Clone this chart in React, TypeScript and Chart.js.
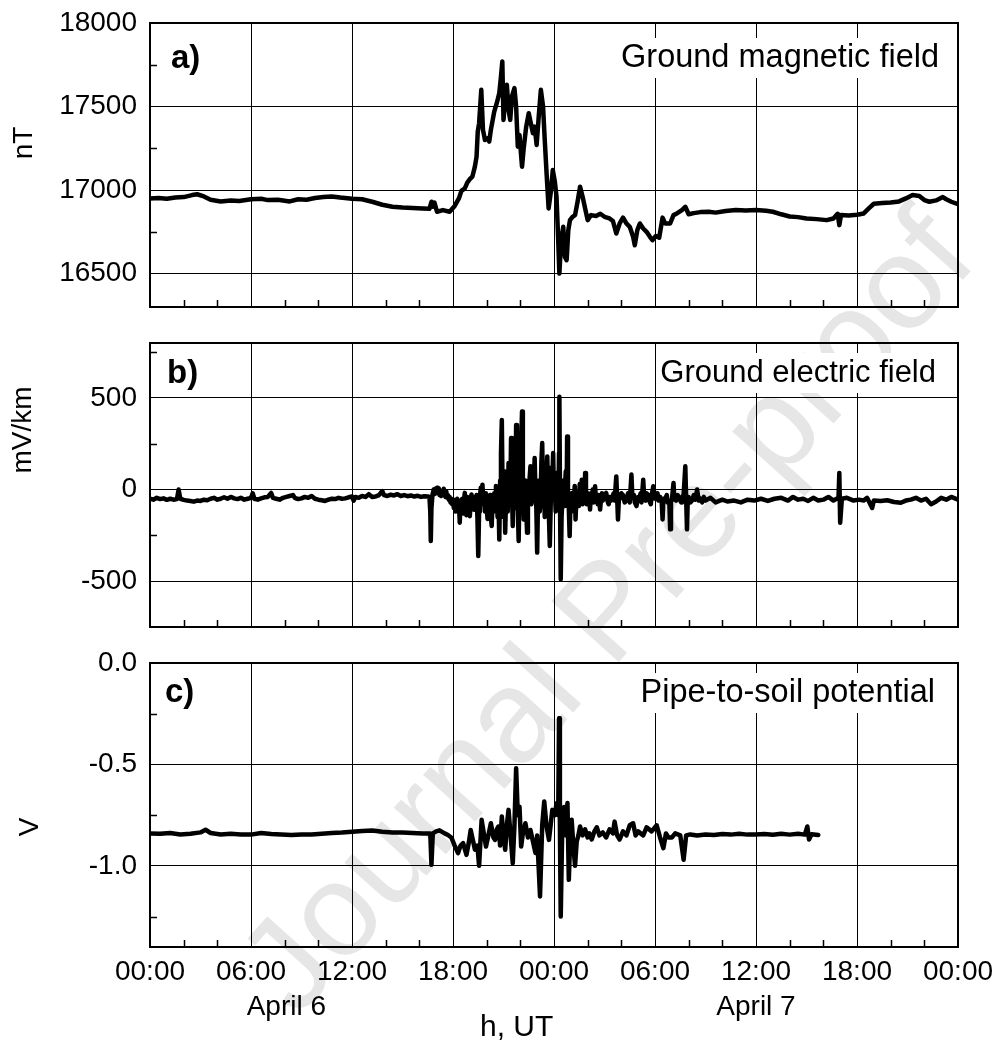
import React, { useEffect, useRef } from 'react';
import { Chart, registerables } from 'chart.js';

Chart.register(...registerables);

const FONT = '"Liberation Sans", Arial, Helvetica, sans-serif';

// ---------- shared x axis (hours from April 6, 00:00 UT) ----------
const xMin = 0;
const xMax = 48;
const majorHours = [0, 6, 12, 18, 24, 30, 36, 42, 48];
const hourLabels = ['00:00', '06:00', '12:00', '18:00', '00:00', '06:00', '12:00', '18:00', '00:00'];
const minorHours = [2, 4, 8, 10, 14, 16, 20, 22, 26, 28, 32, 34, 38, 40, 44, 46];
const dayLabels = ['April 6', 'April 7'];
const dayLabelHours = [8.1, 36];
const xTitle = 'h, UT';

// ---------- panel a: ground magnetic field (nT) ----------
const magHours = [
  0, 0.5, 1.0, 1.5, 2.0, 2.5, 2.8, 3.2, 3.6, 4.2, 4.8, 5.3, 6.0, 6.6, 7.0, 7.6, 8.3, 8.8, 9.3, 9.8,
  10.3, 10.8, 11.3, 12.0, 12.6, 13.2, 13.8, 14.4, 15.0, 15.6, 16.2, 16.6, 16.72, 16.8, 16.9, 17.05, 17.4, 17.8, 18.1, 18.35,
  18.5, 18.7, 18.85, 19.0, 19.15, 19.3, 19.4, 19.47, 19.55, 19.68, 19.78, 19.9, 20.05, 20.15, 20.25, 20.45, 20.6, 20.75, 20.85, 20.93,
  21.0, 21.1, 21.2, 21.3, 21.4, 21.5, 21.65, 21.75, 21.85, 21.95, 22.1, 22.2, 22.35, 22.5, 22.6, 22.75, 22.85, 22.97, 23.1, 23.22,
  23.35, 23.45, 23.57, 23.68, 23.8, 23.93, 24.05, 24.15, 24.25, 24.32, 24.42, 24.55, 24.65, 24.75, 24.85, 24.95, 25.1, 25.25, 25.4, 25.55,
  25.7, 25.85, 26.0, 26.2, 26.5, 26.75, 27.0, 27.3, 27.5, 27.7, 27.9, 28.1, 28.3, 28.5, 28.7, 28.8, 28.95, 29.1, 29.3, 29.5,
  29.7, 29.85, 30.05, 30.25, 30.45, 30.6, 30.9, 31.1, 31.3, 31.6, 31.8, 32.0, 32.3, 32.7, 33.2, 33.6, 34.2, 34.8, 35.4, 36.0,
  36.6, 37.0, 37.5, 38.0, 38.5, 39.0, 39.6, 40.2, 40.6, 40.85, 40.95, 41.05, 41.5, 42.0, 42.4, 42.7, 43.0, 43.5, 44.0, 44.5,
  44.9, 45.3, 45.7, 46.0, 46.3, 46.7, 47.1, 47.3, 47.6, 48.0,
];
const magValues = [
  16950, 16952, 16948, 16955, 16958, 16970, 16975, 16962, 16942, 16932, 16938, 16935, 16945, 16948, 16940, 16942, 16932, 16945, 16942, 16952,
  16958, 16962, 16955, 16948, 16945, 16930, 16912, 16900, 16895, 16893, 16890, 16888, 16930, 16900, 16925, 16870, 16880, 16870, 16905, 16950,
  16995, 17010, 17045, 17065, 17080, 17140, 17200, 17350, 17400, 17600, 17360, 17300, 17310, 17290, 17360, 17470, 17520, 17580, 17680, 17770,
  17420, 17550, 17630, 17480, 17420, 17560, 17610, 17500, 17260, 17330, 17140, 17250, 17380, 17460, 17410, 17340, 17380, 17270, 17450, 17600,
  17500, 17300, 17080, 16890, 16980, 17120, 17050, 16960, 16700, 16500, 16700, 16780, 16600, 16580, 16760, 16820, 16840, 16850, 16930, 17020,
  16960, 16890, 16820, 16850, 16845, 16858, 16840, 16830, 16815, 16740, 16800, 16835, 16800, 16780, 16720, 16670, 16760, 16800, 16770, 16750,
  16720, 16700, 16725, 16715, 16835, 16800, 16800, 16850, 16860, 16880, 16900, 16855, 16862, 16868, 16870, 16865, 16875, 16880, 16878, 16880,
  16876, 16870, 16855, 16842, 16838, 16830, 16826, 16820, 16830, 16858, 16790, 16850, 16848, 16852, 16860, 16890, 16918, 16922, 16925, 16932,
  16950, 16970, 16965, 16940, 16930, 16938, 16958, 16945, 16930, 16915,
];
const magTicks = [16500, 17000, 17500, 18000];
const magMinorTicks = [16750, 17250, 17750];

// ---------- panel b: ground electric field (mV/km) ----------
const elecHours = [
  0.0, 0.2, 0.4, 0.6, 0.8, 1.0, 1.2, 1.4, 1.6, 1.7, 1.8, 2.0, 2.2, 2.4, 2.6, 2.8, 3.0, 3.2, 3.4, 3.6,
  3.8, 4.0, 4.2, 4.4, 4.6, 4.8, 5.0, 5.2, 5.4, 5.6, 5.8, 6.0, 6.1, 6.2, 6.4, 6.6, 6.8, 7.0, 7.2, 7.3,
  7.5, 7.7, 7.9, 8.1, 8.3, 8.5, 8.6, 8.8, 9.0, 9.2, 9.4, 9.6, 9.8, 10.0, 10.2, 10.4, 10.6, 10.8, 11.0, 11.2,
  11.4, 11.6, 11.8, 12.0, 12.1, 12.2, 12.4, 12.6, 12.8, 13.0, 13.2, 13.4, 13.6, 13.8, 13.9, 14.1, 14.3, 14.5, 14.7, 14.9,
  15.1, 15.3, 15.5, 15.7, 15.9, 16.1, 16.3, 16.5,
  16.6, 16.65, 16.68, 16.72, 16.78, 16.85, 16.9, 16.95, 17.0, 17.05, 17.1, 17.15, 17.2, 17.25, 17.3, 17.35, 17.4, 17.45, 17.5, 17.55,
  17.6, 17.65, 17.7, 17.75, 17.8, 17.85, 17.9, 17.95, 18.0, 18.05, 18.1, 18.15, 18.2, 18.25, 18.3, 18.35, 18.4, 18.45, 18.5, 18.55,
  18.6, 18.65, 18.7, 18.75, 18.8, 18.85, 18.9, 18.95, 19.0, 19.05, 19.1, 19.15, 19.2, 19.25, 19.3, 19.35, 19.4, 19.45, 19.5, 19.55,
  19.6, 19.65, 19.7, 19.75, 19.8, 19.85, 19.9, 19.95, 20.0, 20.05, 20.1, 20.15, 20.2, 20.25, 20.3, 20.35, 20.4, 20.45, 20.5, 20.55,
  20.6, 20.65, 20.7, 20.75, 20.8, 20.85, 20.9, 20.95, 21.0, 21.05, 21.1, 21.15, 21.2, 21.25, 21.3, 21.35, 21.4, 21.45, 21.5, 21.55,
  21.6, 21.65, 21.7, 21.75, 21.8, 21.85, 21.9, 21.95, 22.0, 22.05, 22.1, 22.15, 22.2, 22.25, 22.3, 22.35, 22.4, 22.45, 22.5, 22.55,
  22.6, 22.65, 22.7, 22.75, 22.8, 22.85, 22.9, 22.95, 23.0, 23.05, 23.1, 23.15, 23.2, 23.25, 23.3, 23.35, 23.4, 23.45, 23.5, 23.55,
  23.6, 23.65, 23.7, 23.75, 23.8, 23.85, 23.9, 23.95, 24.0, 24.05, 24.1, 24.15, 24.2, 24.25, 24.3, 24.32, 24.36, 24.4, 24.45, 24.5,
  24.55, 24.6, 24.65, 24.7, 24.75, 24.78, 24.83, 24.88, 24.93, 24.98, 25.03, 25.08, 25.13, 25.18, 25.23, 25.28, 25.33, 25.38, 25.43, 25.48,
  25.53, 25.58, 25.65, 25.7, 25.75, 25.8, 25.85, 25.9, 25.95, 26.0, 26.05, 26.1, 26.14, 26.2, 26.25, 26.3, 26.35, 26.4, 26.44, 26.5,
  26.55, 26.6, 26.65, 26.7, 26.74, 26.8, 26.85, 26.9, 26.95, 27.0,
  27.1, 27.2, 27.25, 27.3, 27.4, 27.5, 27.55, 27.6, 27.7, 27.75, 27.8, 27.85, 27.9, 28.0, 28.1, 28.2, 28.3, 28.4, 28.45, 28.5,
  28.6, 28.65, 28.75, 28.8, 28.9, 29.0, 29.05, 29.15, 29.2, 29.3, 29.35, 29.45, 29.5, 29.6, 29.7, 29.75, 29.8, 29.9, 30.0, 30.05,
  30.15, 30.2, 30.3, 30.4, 30.45, 30.5, 30.6, 30.7, 30.75, 30.85, 30.9, 30.95, 31.0, 31.1, 31.15, 31.25, 31.35, 31.45, 31.55, 31.6,
  31.7, 31.8, 31.85, 31.9, 31.95, 32.0, 32.1, 32.2, 32.3, 32.4, 32.5, 32.6, 32.7, 32.8, 32.9, 33.0,
  33.3, 33.6, 34.0, 34.3, 34.7, 35.1, 35.5, 35.9, 36.3, 36.7, 37.1, 37.5, 37.9, 38.2, 38.5, 38.8, 39.1, 39.4, 39.7, 40.0,
  40.3, 40.6, 40.9, 40.95, 41.0, 41.1, 41.4, 41.8, 42.1, 42.4, 42.6, 42.9, 43.0, 43.4, 43.8, 44.2, 44.6, 44.9, 45.2, 45.5,
  45.8, 46.1, 46.4, 46.7, 47.0, 47.3, 47.6, 48.0,
];
const elecValues = [
  -50, -55, -45, -52, -48, -56, -50, -55, -52, 0, -50, -56, -60, -62, -66, -60, -62, -55, -58, -50,
  -45, -55, -50, -42, -50, -40, -48, -52, -45, -55, -50, -45, -20, -50, -55, -48, -42, -40, -18, -45,
  -50, -55, -45, -40, -35, -30, -45, -52, -48, -40, -45, -35, -50, -55, -58, -62, -55, -50, -52, -45,
  -50, -48, -42, -38, -60, -40, -45, -35, -40, -25, -40, -38, -30, -8, -30, -35, -28, -32, -25, -35,
  -30, -36, -32, -38, -34, -40, -36, -38,
  -40, -120, -281, -100, -30, 0, -25, 5, -20, 10, -15, 8, -30, -10, -35, -5, -25, 5, -20, -40,
  -10, -45, -30, -55, -40, -70, -50, -80, -55, -100, -60, -120, -70, -50, -90, -60, -181, -70, -110, -50,
  -130, -60, -18, -80, -140, -40, -100, -60, -145, -50, -27, -90, -40, -110, -60, -100, -30, -150, -362, -120,
  -40, 10, -60, 27, -80, -30, -120, -20, -90, -160, -40, -120, -30, -150, -199, -60, -120, -20, -100, 20,
  -60, -150, -40, -272, 50, 200, 380, -50, -150, 100, -235, -50, 50, -120, 145, -80, -50, 281, 0, -199,
  50, 200, -100, 353, 100, -100, -281, 0, 100, 250, 426, 50, -163, 20, 50, -100, -235, -50, 0, 60,
  127, -80, -50, 100, 40, 172, -20, -100, -344, -50, 50, -120, -72, 150, 254, -50, 100, -150, -100, 80,
  181, -30, -150, -308, -100, 120, 50, 199, -50, 0, -120, 91, -30, -100, 200, 507, -100, -489, -150, -50,
  50, -90, 20, 100, -50, 290, -20, -100, -254, -50, -120, -18, -60, -100, 20, -163, -50, -36, -90, -50,
  30, -60, 54, -80, -20, -60, 91, -30, -80, -20, -60, -30, -109, -20, -60, 0, -70, -30, 18, -60,
  -40, -80, -30, -70, -109, -40, -20, -60, -30, -50,
  -18, -70, -80, -40, -60, -30, -20, -60, 72, -40, -163, -60, -50, -20, -30, -70, -60, -20, -40, -70,
  82, -30, -30, -70, -90, -40, -50, -20, -70, 54, -30, -60, -20, -30, -70, -80, -30, 18, -50, -40,
  -20, -60, -40, -70, -163, -50, -50, -30, -70, -60, -217, -60, -60, 36, -50, -60, -30, -50, -70, -40,
  -30, 127, -50, -217, -40, -40, -70, -60, -30, -55, 0, -60, -50, -70, -40, -60,
  -45, -70, -55, -65, -60, -70, -55, -60, -50, -62, -50, -45, -60, -40, -55, -50, -62, -45, -60, -55,
  -40, -60, -45, 91, -181, -50, -45, -60, -55, -60, -45, -100, -60, -62, -58, -68, -72, -60, -55, -45,
  -60, -50, -80, -65, -45, -55, -40, -55,
];
const elecTicks = [-500, 0, 500];
const elecMinorTicks = [-250, 250, 750];

// ---------- panel c: pipe-to-soil potential (V) ----------
const pspHours = [
  0, 0.6, 1.2, 1.8, 2.4, 3.0, 3.3, 3.6, 4.2, 4.8, 5.4, 6.0, 6.6, 7.2, 7.8, 8.4, 9.0, 9.6, 10.2, 10.8,
  11.4, 12.0, 12.6, 13.2, 13.8, 14.4, 15.0, 15.6, 16.2, 16.65, 16.72, 16.8, 17.0, 17.2, 17.5, 17.7, 17.9, 18.1, 18.3, 18.45,
  18.6, 18.8, 18.95, 19.05, 19.2, 19.3, 19.45, 19.55, 19.7, 19.85, 19.96, 20.1, 20.25, 20.4, 20.5, 20.6, 20.7, 20.8, 20.9, 21.0,
  21.1, 21.2, 21.3, 21.42, 21.55, 21.65, 21.75, 21.85, 21.95, 22.05, 22.15, 22.3, 22.45, 22.6, 22.75, 22.9, 23.0, 23.17, 23.3, 23.42,
  23.55, 23.7, 23.8, 23.9, 24.05, 24.15, 24.25, 24.3, 24.35, 24.4, 24.5, 24.6, 24.7, 24.8, 24.88, 24.97, 25.05, 25.15, 25.25, 25.35,
  25.45, 25.55, 25.7, 25.85, 26.0, 26.1, 26.24, 26.4, 26.54, 26.7, 26.9, 27.1, 27.3, 27.5, 27.6, 27.75, 27.9, 28.1, 28.3, 28.5,
  28.7, 28.85, 29.0, 29.3, 29.5, 29.8, 30.1, 30.3, 30.5, 30.65, 30.8, 31.0, 31.2, 31.5, 31.7, 31.85, 32.1, 32.5, 33.0, 33.5,
  34.0, 34.5, 35.0, 35.5, 36.0, 36.5, 37.0, 37.5, 38.0, 38.5, 38.9, 39.05, 39.15, 39.3, 39.7,
];
const pspValues = [
  -0.84, -0.842, -0.838, -0.845, -0.842, -0.835, -0.822, -0.838, -0.845, -0.842, -0.845, -0.846, -0.838, -0.843, -0.845, -0.848, -0.845, -0.846, -0.842, -0.838,
  -0.836, -0.832, -0.828, -0.826, -0.832, -0.835, -0.836, -0.838, -0.84, -0.84, -0.995, -0.84, -0.83, -0.825, -0.84, -0.848, -0.86, -0.9, -0.937, -0.9,
  -0.888, -0.946, -0.88, -0.823, -0.88, -0.92, -0.9, -1.0, -0.773, -0.85, -0.905, -0.85, -0.79, -0.86, -0.872, -0.82, -0.806, -0.9, -0.757, -0.85,
  -0.921, -0.8, -0.724, -0.85, -0.987, -0.8, -0.519, -0.75, -0.708, -0.905, -0.84, -0.79, -0.86, -0.823, -0.88, -0.937, -0.85, -1.151, -0.8, -0.683,
  -0.8, -0.872, -0.8, -0.724, -0.75, -0.691, -0.75, -0.272, -0.8, -1.25, -0.76, -0.71, -0.85, -0.69, -1.069, -0.85, -0.773, -0.9, -1.0, -0.88,
  -0.85, -0.806, -0.85, -0.82, -0.86, -0.84, -0.87, -0.83, -0.81, -0.85, -0.835, -0.86, -0.82, -0.84, -0.782, -0.85, -0.87, -0.83, -0.85, -0.8,
  -0.79, -0.85, -0.83, -0.85, -0.81, -0.83, -0.8, -0.86, -0.913, -0.84, -0.86, -0.86, -0.84, -0.85, -0.97, -0.85, -0.845, -0.85, -0.845, -0.848,
  -0.843, -0.846, -0.842, -0.846, -0.845, -0.843, -0.847, -0.842, -0.846, -0.842, -0.846, -0.806, -0.87, -0.844, -0.848,
];
const pspTicks = [-1.0, -0.5, 0];
const pspMinorTicks = [-1.25, -0.75, -0.25];

// ---------- panel layout ----------
interface PanelSpec {
  hours: number[];
  values: number[];
  yMin: number;
  yMax: number;
  yTicks: number[];
  yMinor: number[];
  fmt: (v: number) => string;
  tag: string;
  title: string;
  titleSize: number;
  yTitle: string;
  tagPos: [number, number];
  titlePos: [number, number];
  yTitlePos: [number, number];
  top: number;
  height: number;
  bottomAxis: boolean;
}

const panels: PanelSpec[] = [
  {
    hours: magHours, values: magValues, yMin: 16300, yMax: 18000,
    yTicks: magTicks, yMinor: magMinorTicks, fmt: (v) => String(v),
    tag: 'a)', title: 'Ground magnetic field', titleSize: 32.5, yTitle: 'nT',
    tagPos: [171, 68], titlePos: [939, 67], yTitlePos: [24, 143],
    top: 0, height: 320, bottomAxis: false,
  },
  {
    hours: elecHours, values: elecValues, yMin: -750, yMax: 800,
    yTicks: elecTicks, yMinor: elecMinorTicks, fmt: (v) => String(v),
    tag: 'b)', title: 'Ground electric field', titleSize: 31, yTitle: 'mV/km',
    tagPos: [167, 63], titlePos: [936, 62], yTitlePos: [23, 110],
    top: 320, height: 320, bottomAxis: false,
  },
  {
    hours: pspHours, values: pspValues, yMin: -1.4, yMax: 0,
    yTicks: pspTicks, yMinor: pspMinorTicks, fmt: (v) => v.toFixed(1),
    tag: 'c)', title: 'Pipe-to-soil potential', titleSize: 32.5, yTitle: 'V',
    tagPos: [165, 62], titlePos: [935, 62], yTitlePos: [30, 187],
    top: 640, height: 400, bottomAxis: true,
  },
];

const AREA_LEFT = 150;
const AREA_RIGHT_PAD = 39;
const AREA_TOP = 23;
const AREA_HEIGHT = 284;

function decorPlugin(p: PanelSpec) {
  return {
    id: 'panelDecor',
    afterDatasetsDraw(chart: any) {
      const ctx: CanvasRenderingContext2D = chart.ctx;
      const ca = chart.chartArea;
      const xs = chart.scales.x;
      const ys = chart.scales.y;
      ctx.save();
      // frame
      ctx.strokeStyle = '#000';
      ctx.lineWidth = 2;
      ctx.strokeRect(ca.left, ca.top, ca.right - ca.left, ca.bottom - ca.top);
      // minor ticks (inward)
      ctx.lineWidth = 1.5;
      ctx.beginPath();
      for (const h of minorHours) {
        const px = Math.round(xs.getPixelForValue(h)) + 0.5;
        ctx.moveTo(px, ca.bottom);
        ctx.lineTo(px, ca.bottom - 7);
      }
      for (const v of p.yMinor) {
        const py = Math.round(ys.getPixelForValue(v)) + 0.5;
        ctx.moveTo(ca.left, py);
        ctx.lineTo(ca.left + 7, py);
      }
      ctx.stroke();
      // panel title with white box
      ctx.font = `${p.titleSize}px ${FONT}`;
      const w = ctx.measureText(p.title).width;
      const [rx, by] = p.titlePos;
      ctx.fillStyle = '#fff';
      ctx.fillRect(rx - w - 4, by - 29, w + 8, 40);
      ctx.fillStyle = '#000';
      ctx.textAlign = 'right';
      ctx.textBaseline = 'alphabetic';
      ctx.fillText(p.title, rx, by);
      // tag
      ctx.font = `bold 33px ${FONT}`;
      ctx.textAlign = 'left';
      ctx.fillText(p.tag, p.tagPos[0], p.tagPos[1]);
      // bottom extras
      if (p.bottomAxis) {
        ctx.font = `28px ${FONT}`;
        ctx.textAlign = 'center';
        dayLabels.forEach((lab, i) => {
          ctx.fillText(lab, xs.getPixelForValue(dayLabelHours[i]), 375);
        });
        ctx.font = `30px ${FONT}`;
        ctx.textAlign = 'left';
        ctx.fillText(xTitle, 480, 396);
      }
      // y title
      ctx.font = `28px ${FONT}`;
      ctx.translate(p.yTitlePos[0], p.yTitlePos[1]);
      ctx.rotate(-Math.PI / 2);
      ctx.textAlign = 'center';
      ctx.textBaseline = 'middle';
      ctx.fillText(p.yTitle, 0, 0);
      ctx.restore();
    },
  };
}

function Panel({ p }: { p: PanelSpec }) {
  const ref = useRef<HTMLCanvasElement>(null);
  useEffect(() => {
    if (!ref.current) return;
    const bottomH = p.height - AREA_TOP - AREA_HEIGHT;
    const chart = new Chart(ref.current, {
      type: 'line',
      data: {
        datasets: [
          {
            data: p.hours.map((h, i) => ({ x: h, y: p.values[i] })),
            borderColor: '#000',
            borderWidth: 4.5,
            pointRadius: 0,
            tension: 0,
            borderJoinStyle: 'round',
            borderCapStyle: 'round',
            fill: false,
          },
        ],
      },
      options: {
        animation: false,
        responsive: false,
        devicePixelRatio: 1,
        events: [],
        layout: { padding: { left: 0, right: AREA_RIGHT_PAD, top: AREA_TOP, bottom: 0 } },
        plugins: { legend: { display: false }, tooltip: { enabled: false }, title: { display: false } },
        scales: {
          x: {
            type: 'linear',
            min: xMin,
            max: xMax,
            afterBuildTicks: (axis: any) => {
              axis.ticks = majorHours.map((v) => ({ value: v }));
            },
            afterFit: (axis: any) => {
              axis.height = bottomH;
              axis.paddingLeft = 0;
              axis.paddingRight = 0;
              axis.paddingTop = 0;
              axis.paddingBottom = 0;
            },
            border: { display: false },
            grid: { color: '#000', lineWidth: 1, drawTicks: false },
            ticks: {
              display: p.bottomAxis,
              autoSkip: false,
              maxRotation: 0,
              padding: 8,
              color: '#000',
              font: { family: FONT, size: 28 },
              callback: (_v: any, i: number) => hourLabels[i],
            },
          },
          y: {
            type: 'linear',
            min: p.yMin,
            max: p.yMax,
            afterBuildTicks: (axis: any) => {
              axis.ticks = p.yTicks.map((v) => ({ value: v }));
            },
            afterFit: (axis: any) => {
              axis.width = AREA_LEFT;
              axis.paddingTop = 0;
              axis.paddingBottom = 0;
              axis.paddingLeft = 0;
              axis.paddingRight = 0;
            },
            border: { display: false },
            grid: { color: '#000', lineWidth: 1, drawTicks: false },
            ticks: {
              padding: 13,
              color: '#000',
              font: { family: FONT, size: 28 },
              callback: (v: any) => p.fmt(Number(v)),
            },
          },
        },
      },
      plugins: [decorPlugin(p)],
    } as any);
    return () => chart.destroy();
  }, [p]);
  return (
    <canvas
      ref={ref}
      width={997}
      height={p.height}
      style={{ position: 'absolute', left: 0, top: p.top, width: 997, height: p.height, zIndex: 1 }}
    />
  );
}

export default function App() {
  return (
    <div style={{ position: 'absolute', left: 0, top: 0, width: 997, height: 1040, background: '#fff', overflow: 'hidden' }}>
      <div
        style={{
          position: 'absolute',
          left: 605,
          top: 610,
          transform: 'translate(-50%, -50%) rotate(-48deg)',
          fontFamily: FONT,
          fontSize: 132,
          color: 'rgb(230,230,230)',
          whiteSpace: 'nowrap',
          zIndex: 0,
          lineHeight: 1,
        }}
      >
        Journal Pre-proof
      </div>
      {panels.map((p, i) => (
        <Panel key={i} p={p} />
      ))}
    </div>
  );
}
